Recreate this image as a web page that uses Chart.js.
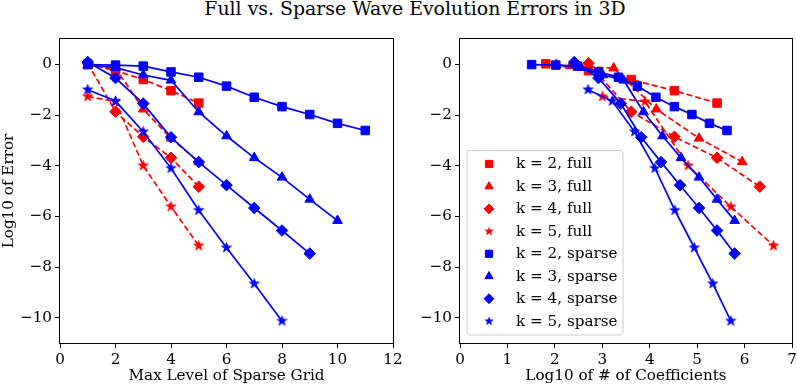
<!DOCTYPE html>
<html>
<head>
<meta charset="utf-8">
<script src="https://cdn.jsdelivr.net/npm/chart.js@4.4.1/dist/chart.umd.min.js"></script>
<style>
  html, body { margin: 0; padding: 0; background: #fff; }
  body { width: 797px; height: 385px; overflow: hidden; position: relative; font-family: 'DejaVu Serif', serif; }
  #title { position: absolute; left: 0; top: -1px; width: 830px; text-align: center; font-size: 18.9px; line-height: 18.9px; color: #000; white-space: nowrap; }
  #c1 { position: absolute; left: 0; top: 0; }
  #c2 { position: absolute; left: 400px; top: 0; }
</style>
</head>
<body>
<div id="title">Full vs. Sparse Wave Evolution Errors in 3D</div>
<canvas id="c1" width="420" height="385"></canvas>
<canvas id="c2" width="410" height="385"></canvas>
<script>
// ---- data ----
const seriesLabels = ['k = 2, full', 'k = 3, full', 'k = 4, full', 'k = 5, full',
                      'k = 2, sparse', 'k = 3, sparse', 'k = 4, sparse', 'k = 5, sparse'];

const levelsFull = [1, 2, 3, 4, 5];
const levelsSparse2 = [1, 2, 3, 4, 5, 6, 7, 8, 9, 10, 11];
const levelsSparse3 = [1, 2, 3, 4, 5, 6, 7, 8, 9, 10];
const levelsSparse4 = [1, 2, 3, 4, 5, 6, 7, 8, 9];
const levelsSparse5 = [1, 2, 3, 4, 5, 6, 7, 8];

const errFull2 = [0.02, -0.25, -0.60, -1.04, -1.53];
const errFull3 = [-0.06, -0.15, -1.77, -2.92, -3.85];
const errFull4 = [0.04, -1.87, -2.86, -3.69, -4.83];
const errFull5 = [-1.27, -1.47, -4.00, -5.62, -7.16];
const errSparse2 = [-0.01, -0.03, -0.07, -0.30, -0.51, -0.86, -1.30, -1.67, -1.98, -2.33, -2.61];
const errSparse3 = [-0.02, -0.13, -0.42, -0.63, -1.88, -2.83, -3.69, -4.46, -5.33, -6.17];
const errSparse4 = [0.09, -0.54, -1.55, -2.88, -3.86, -4.77, -5.67, -6.56, -7.47];
const errSparse5 = [-1.00, -1.45, -2.66, -4.10, -5.76, -7.24, -8.66, -10.13];

const coefFull2 = [1.81, 2.71, 3.61, 4.52, 5.42];
const coefFull3 = [2.33, 3.24, 4.14, 5.04, 5.95];
const coefFull4 = [2.71, 3.61, 4.52, 5.42, 6.32];
const coefFull5 = [3.00, 3.90, 4.81, 5.71, 6.61];
const coefSparse2 = [1.51, 2.02, 2.48, 2.92, 3.34, 3.74, 4.13, 4.52, 4.89, 5.26, 5.63];
const coefSparse3 = [2.03, 2.55, 3.01, 3.45, 3.87, 4.27, 4.66, 5.04, 5.42, 5.79];
const coefSparse4 = [2.41, 2.92, 3.39, 3.82, 4.24, 4.64, 5.04, 5.42, 5.79];
const coefSparse5 = [2.70, 3.21, 3.68, 4.11, 4.53, 4.94, 5.33, 5.71];

const levelTicks = [0, 2, 4, 6, 8, 10, 12];
const coefTicks = [0, 1, 2, 3, 4, 5, 6, 7];
const errorTicks = [-10, -8, -6, -4, -2, 0];

// ---- styling ----
const RED = '#ff0000', BLUE = '#0000ff';
const FONT = { family: "'DejaVu Serif', serif", size: 15.2 };

function starImage(color) {
  const s = 13, c = document.createElement('canvas');
  c.width = s; c.height = s;
  const g = c.getContext('2d');
  g.fillStyle = color; g.strokeStyle = color; g.lineWidth = 1; g.lineJoin = 'miter';
  const R = 5.1, r = R * 0.382;
  g.beginPath();
  for (let i = 0; i < 10; i++) {
    const a = -Math.PI / 2 + i * Math.PI / 5;
    const rr = i % 2 ? r : R;
    g.lineTo(s / 2 + rr * Math.cos(a), s / 2 + rr * Math.sin(a));
  }
  g.closePath(); g.fill(); g.stroke();
  return c;
}
const starRed = starImage(RED), starBlue = starImage(BLUE);

const markerStyles = [
  { pointStyle: 'rect', radius: 6 },
  { pointStyle: 'triangle', radius: 5.6 },
  { pointStyle: 'rectRot', radius: 5.8 },
  { pointStyle: 'star', radius: 6 }
];

const errSeries = [errFull2, errFull3, errFull4, errFull5, errSparse2, errSparse3, errSparse4, errSparse5];
const levelSeries = [levelsFull, levelsFull, levelsFull, levelsFull, levelsSparse2, levelsSparse3, levelsSparse4, levelsSparse5];
const coefSeries = [coefFull2, coefFull3, coefFull4, coefFull5, coefSparse2, coefSparse3, coefSparse4, coefSparse5];

function buildDatasets(xSeries) {
  return seriesLabels.map((label, i) => {
    const full = i < 4;
    const color = full ? RED : BLUE;
    const m = markerStyles[i % 4];
    const ps = m.pointStyle === 'star' ? (full ? starRed : starBlue) : m.pointStyle;
    return {
      label,
      data: xSeries[i].map((x, j) => ({ x, y: errSeries[i][j] })),
      borderColor: color,
      backgroundColor: color,
      borderWidth: 1.7,
      borderDash: full ? [6, 3] : [],
      pointStyle: ps,
      pointRadius: m.radius,
      pointHoverRadius: m.radius,
      pointBackgroundColor: color,
      pointBorderColor: color,
      pointBorderWidth: 1,
      tension: 0,
      fill: false,
      order: 100 - i
    };
  });
}

const fmt = v => (v < 0 ? '\u2212' + String(-v) : String(v));

const framePlugin = {
  id: 'frame',
  afterDraw(chart) {
    const { ctx, chartArea: a } = chart;
    ctx.save();
    ctx.strokeStyle = '#000';
    ctx.lineWidth = 1;
    ctx.strokeRect(Math.round(a.left) - 0.5, Math.round(a.top) - 0.5,
                   Math.round(a.right - a.left) + 1, Math.round(a.bottom - a.top) + 1);
    ctx.restore();
  }
};

const legendPlugin = {
  id: 'insetLegend',
  afterDraw(chart, args, opts) {
    if (!opts || !opts.show) return;
    const { ctx } = chart;
    const bx = 467 - 400, by = 150.5, bw = 156, bh = 184.5, rad = 3;
    ctx.save();
    ctx.beginPath();
    ctx.moveTo(bx + rad, by);
    ctx.lineTo(bx + bw - rad, by); ctx.quadraticCurveTo(bx + bw, by, bx + bw, by + rad);
    ctx.lineTo(bx + bw, by + bh - rad); ctx.quadraticCurveTo(bx + bw, by + bh, bx + bw - rad, by + bh);
    ctx.lineTo(bx + rad, by + bh); ctx.quadraticCurveTo(bx, by + bh, bx, by + bh - rad);
    ctx.lineTo(bx, by + rad); ctx.quadraticCurveTo(bx, by, bx + rad, by);
    ctx.closePath();
    ctx.fillStyle = 'rgba(255,255,255,0.8)';
    ctx.fill();
    ctx.strokeStyle = '#cccccc';
    ctx.lineWidth = 1;
    ctx.stroke();
    ctx.font = `${FONT.size}px ${FONT.family}`;
    ctx.textBaseline = 'middle';
    ctx.textAlign = 'left';
    chart.data.datasets.forEach((ds, i) => {
      const y = 164 + i * 22.45;
      const x = 489 - 400;
      if (typeof ds.pointStyle === 'string') {
        ctx.fillStyle = ds.pointBackgroundColor;
        ctx.strokeStyle = ds.pointBorderColor;
        ctx.lineWidth = 1;
        Chart.helpers.drawPoint(ctx, { pointStyle: ds.pointStyle, radius: ds.pointRadius * 0.85, borderWidth: 1, rotation: 0 }, x, y);
      } else {
        const img = ds.pointStyle;
        ctx.drawImage(img, x - img.width / 2 * 0.8, y - img.height / 2 * 0.8, img.width * 0.8, img.height * 0.8);
      }
      ctx.fillStyle = '#000';
      ctx.fillText(ds.label, 516 - 400, y + 0.5);
    });
    ctx.restore();
  }
};

function makeChart(canvas, xSeries, xMin, xMax, xTicks, xTitle, showYTitle, showLegend, padRight) {
  return new Chart(canvas, {
    type: 'line',
    data: { datasets: buildDatasets(xSeries) },
    options: {
      responsive: false,
      animation: false,
      devicePixelRatio: 1,
      layout: { padding: { top: 39, right: padRight, bottom: 0, left: 0 } },
      plugins: {
        legend: { display: false },
        tooltip: { enabled: false },
        title: { display: false },
        insetLegend: { show: showLegend }
      },
      events: [],
      scales: {
        x: {
          type: 'linear',
          min: xMin, max: xMax,
          afterBuildTicks: s => { s.ticks = xTicks.map(v => ({ value: v })); },
          afterFit: s => { s.height = 42; },
          grid: { drawOnChartArea: false, drawTicks: true, tickLength: 5, color: '#000', lineWidth: 1 },
          border: { display: false },
          ticks: { color: '#000', font: FONT, padding: 3, maxRotation: 0, autoSkip: false, callback: fmt },
          title: { display: true, text: xTitle, color: '#000', font: FONT, padding: { top: 0, bottom: 0 } }
        },
        y: {
          type: 'linear',
          min: -11, max: 1,
          afterBuildTicks: s => { s.ticks = errorTicks.map(v => ({ value: v })); },
          afterFit: s => { s.width = 60; },
          grid: { drawOnChartArea: false, drawTicks: true, tickLength: 5, color: '#000', lineWidth: 1 },
          border: { display: false },
          ticks: { color: '#000', font: FONT, padding: 3, autoSkip: false, callback: fmt },
          title: { display: showYTitle, text: 'Log10 of Error', color: '#000', font: FONT, padding: { top: 0.4, bottom: 0 } }
        }
      }
    },
    plugins: [framePlugin, legendPlugin]
  });
}

makeChart(document.getElementById('c1'), levelSeries, 0, 12, levelTicks, 'Max Level of Sparse Grid', true, false, 27);
makeChart(document.getElementById('c2'), coefSeries, 0, 7, coefTicks, 'Log10 of # of Coefficients', false, true, 18);
</script>
</body>
</html>
